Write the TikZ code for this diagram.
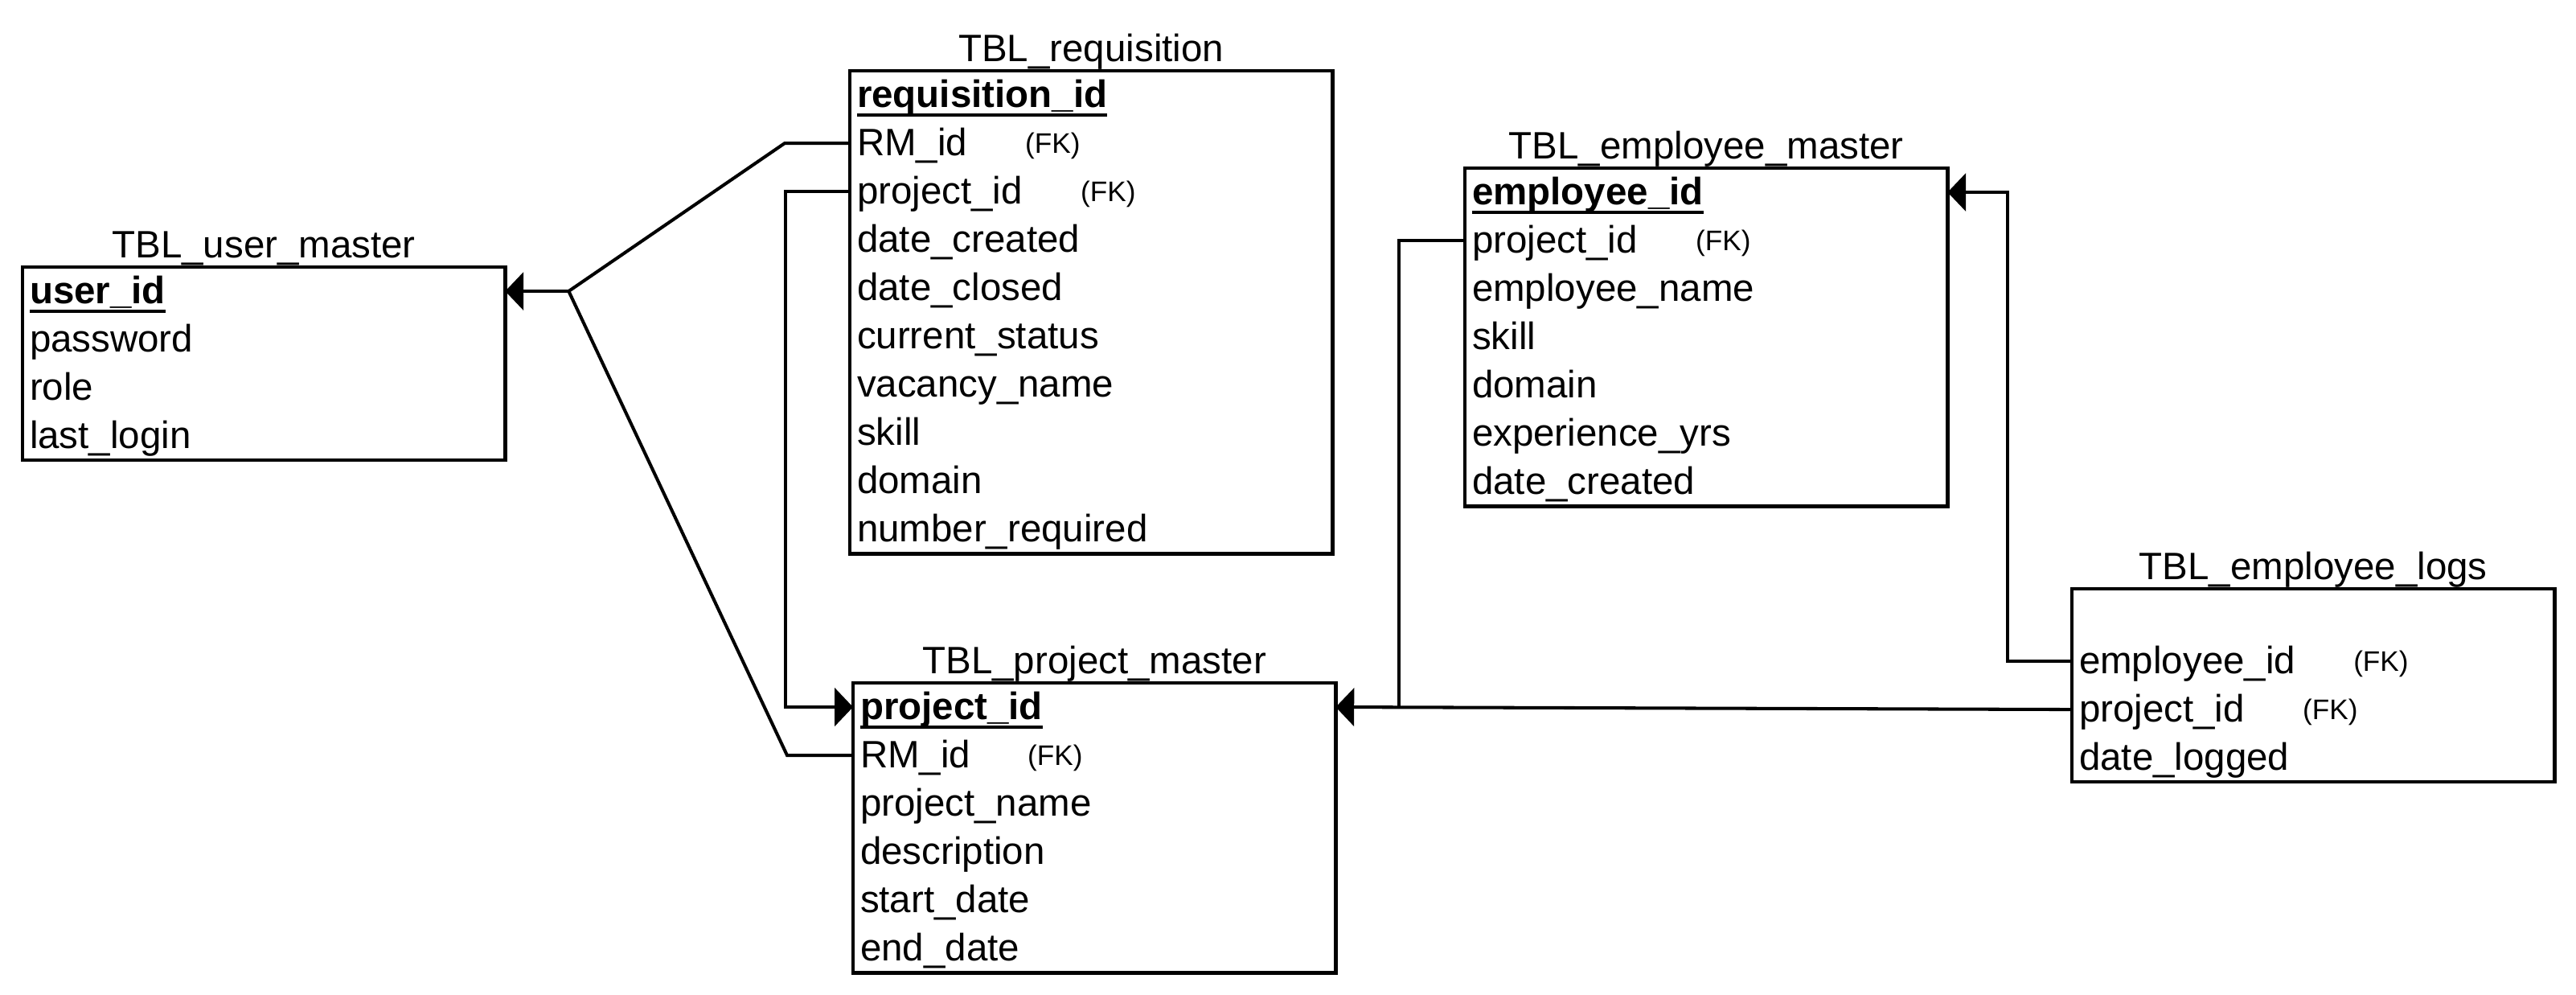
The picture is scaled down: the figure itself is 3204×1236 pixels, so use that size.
\documentclass[tikz,border=0pt]{standalone}
\usepackage{fontspec}
\setmainfont{Liberation Sans}
\usetikzlibrary{arrows.meta,calc}
\newcommand{\pkey}[1]{\setbox0=\hbox{\bfseries #1}\rlap{\rule[-3.2pt]{\wd0}{1pt}}\box0}
\newcommand{\fkat}[2]{\makebox[#1][l]{#2}\raisebox{0.8pt}{\fontsize{10}{12}\selectfont (FK)}}
\tikzset{
  tbox/.style={draw, line width=1.3pt, minimum width=6cm, inner sep=0pt, outer sep=0pt, anchor=north west},
  row/.style={anchor=north west, inner xsep=0.09cm, inner ysep=0pt, outer sep=0pt,
    text width=5.82cm, align=left, text height=0.455cm, text depth=0.145cm,
    font=\fontsize{13.5}{16}\selectfont},
  ttl/.style={anchor=base, inner sep=0pt, font=\fontsize{13.5}{16}\selectfont},
  conn/.style={line width=1.15pt},
  tip/.style={-{Triangle[length=6.5pt,width=13.4pt]}}
}
\begin{document}
\begin{tikzpicture}[x=0.01cm,y=-0.01cm]
\useasboundingbox (0,0) rectangle (3204,1236);

% TBL_user_master
\node[tbox, minimum height=2.4cm] (um) at (28,332) {};
\node[ttl] (t-um) at ($(um.north)+(0,-12)$) {TBL\_user\_master};
\node[row] (um-uid) at (um.north west) {\pkey{user\_id}};
\node[row] (um-pw) at (um-uid.south west) {password};
\node[row] (um-role) at (um-pw.south west) {role};
\node[row] (um-ll) at (um-role.south west) {last\_login};

% TBL_requisition
\node[tbox, minimum height=6cm] (req) at (1057,88) {};
\node[ttl] (t-req) at ($(req.north)+(0,-12)$) {TBL\_requisition};
\node[row] (req-id) at (req.north west) {\pkey{requisition\_id}};
\node[row] (req-rm) at (req-id.south west) {\fkat{2.09cm}{RM\_id}};
\node[row] (req-pid) at (req-rm.south west) {\fkat{2.78cm}{project\_id}};
\node[row] (req-dc) at (req-pid.south west) {date\_created};
\node[row] (req-dcl) at (req-dc.south west) {date\_closed};
\node[row] (req-cs) at (req-dcl.south west) {current\_status};
\node[row] (req-vn) at (req-cs.south west) {vacancy\_name};
\node[row] (req-sk) at (req-vn.south west) {skill};
\node[row] (req-dom) at (req-sk.south west) {domain};
\node[row] (req-nr) at (req-dom.south west) {number\_required};

% TBL_project_master
\node[tbox, minimum height=3.6cm] (pm) at (1061,849) {};
\node[ttl] (t-pm) at ($(pm.north)+(0,-12)$) {TBL\_project\_master};
\node[row] (pm-pid) at (pm.north west) {\pkey{project\_id}};
\node[row] (pm-rm) at (pm-pid.south west) {\fkat{2.08cm}{RM\_id}};
\node[row] (pm-pn) at (pm-rm.south west) {project\_name};
\node[row] (pm-desc) at (pm-pn.south west) {description};
\node[row] (pm-sd) at (pm-desc.south west) {start\_date};
\node[row] (pm-ed) at (pm-sd.south west) {end\_date};

% TBL_employee_master
\node[tbox, minimum height=4.2cm] (em) at (1822,209) {};
\node[ttl] (t-em) at ($(em.north)+(0,-12)$) {TBL\_employee\_master};
\node[row] (em-eid) at (em.north west) {\pkey{employee\_id}};
\node[row] (em-pid) at (em-eid.south west) {\fkat{2.78cm}{project\_id}};
\node[row] (em-en) at (em-pid.south west) {employee\_name};
\node[row] (em-sk) at (em-en.south west) {skill};
\node[row] (em-dom) at (em-sk.south west) {domain};
\node[row] (em-ey) at (em-dom.south west) {experience\_yrs};
\node[row] (em-dc) at (em-ey.south west) {date\_created};

% TBL_employee_logs
\node[tbox, minimum height=2.4cm] (el) at (2577,732) {};
\node[ttl] (t-el) at ($(el.north)+(0,-12)$) {TBL\_employee\_logs};
\node[row] (el-eid) at ($(el.north west)+(0,60)$) {\fkat{3.41cm}{employee\_id}};
\node[row] (el-pid) at (el-eid.south west) {\fkat{2.78cm}{project\_id}};
\node[row] (el-dl) at (el-pid.south west) {date\_logged};

% connectors
\coordinate (J) at ($(um-uid.east)+(79,0)$);
\coordinate (jr) at ($(req-rm.west)+(-81,0)$);
\coordinate (jp) at ($(pm-rm.west)+(-82,0)$);
\draw[conn] (req-rm.west) -- (jr) -- (J);
\draw[conn] (pm-rm.west) -- (jp) -- (J);
\draw[conn, tip] (J) -- (um-uid.east);
\draw[conn, tip] (req-pid.west) -- ++(-80,0) |- (pm-pid.west);
\draw[conn, tip] (el-pid.west) -- (pm-pid.east);
\coordinate (k) at ($(pm-pid.east)+(79,0)$);
\draw[conn] (em-pid.west) -| (k);
\draw[conn, tip] (el-eid.west) -- ++(-80,0) |- (em-eid.east);
\end{tikzpicture}
\end{document}
